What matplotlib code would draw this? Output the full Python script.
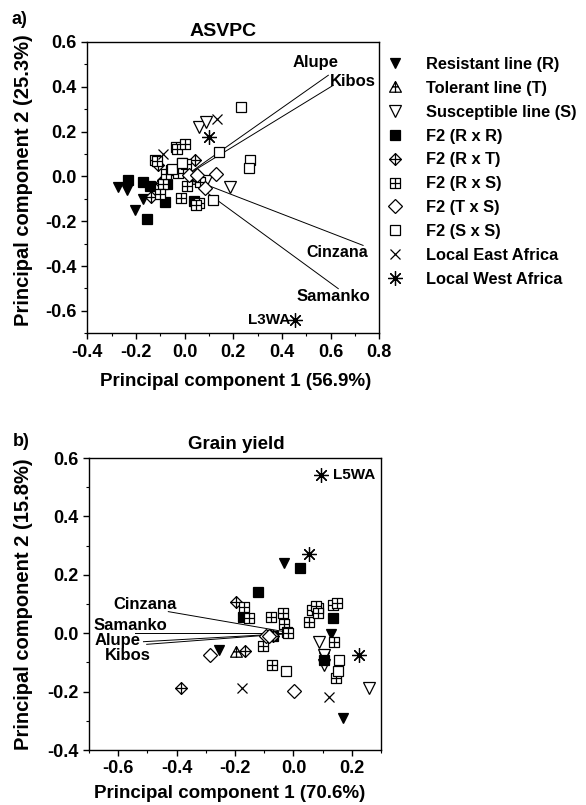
import matplotlib
matplotlib.use("Agg")
import matplotlib.pyplot as plt
from matplotlib.path import Path
from matplotlib.lines import Line2D
from matplotlib.ticker import MultipleLocator, FormatStrFormatter

plt.rcParams['font.family'] = ['Liberation Sans', 'DejaVu Sans']
plt.rcParams['font.weight'] = 'bold'
plt.rcParams['axes.unicode_minus'] = False

groups = ["Resistant line (R)", "Tolerant line (T)", "Susceptible line (S)",
          "F2 (R x R)", "F2 (R x T)", "F2 (R x S)", "F2 (T x S)", "F2 (S x S)",
          "Local East Africa", "Local West Africa"]

# ---- a) ASVPC scores
top_x = [
    [-0.272, -0.238, -0.170, -0.204, 0.03],
    [0.05],
    [0.060, 0.088, 0.186, 0.09],
    [-0.234, -0.172, -0.141, -0.156, -0.080, 0.038, -0.074],
    [-0.139, -0.108, -0.088, 0.043, 0.047, -0.095],
    [-0.035, -0.030, 0.002, -0.122, -0.056, -0.026, -0.012, 0.006, -0.088,
     -0.101, 0.009, -0.015, 0.060, 0.046, 0.063, -0.115, -0.075],
    [0.129, 0.084, 0.02, 0.05],
    [0.23, 0.141, 0.269, 0.266, 0.118, -0.053, -0.01],
    [0.132, -0.090],
    [0.101, 0.454],
]
top_y = [
    [-0.048, -0.063, -0.10, -0.150, -0.01],
    [-0.01],
    [0.22, 0.243, -0.047, -0.02],
    [-0.018, -0.027, -0.045, -0.189, -0.115, -0.108, -0.033],
    [-0.092, 0.049, -0.015, 0.075, -0.003, -0.03],
    [0.131, 0.12, 0.146, 0.075, 0.030, 0.017, 0.060, 0.055, -0.033,
     -0.080, -0.045, -0.097, -0.120, -0.130, -0.025, 0.07, 0.01],
    [0.012, -0.052, 0.005, 0.005],
    [0.31, 0.108, 0.071, 0.039, -0.104, 0.035, 0.06],
    [0.258, 0.098],
    [0.176, -0.643],
]

# ---- b) grain yield scores
bot_x = [
    [-0.031, -0.255, 0.127, 0.168, 0.104],
    [-0.197],
    [0.088, 0.104, 0.258, 0.105],
    [0.021, -0.12, -0.172, 0.135, 0.104, -0.07],
    [-0.383, -0.165, -0.197, -0.08, -0.07],
    [-0.168, -0.153, -0.076, -0.037, -0.031, -0.022, 0.053, 0.065, 0.085,
     0.136, 0.14, 0.146, -0.073, -0.104, 0.076, 0.149, 0.085, -0.02],
    [-0.287, 0.001, -0.095, -0.085],
    [-0.024, 0.155, 0.151],
    [-0.176, 0.121],
    [0.095, 0.053, 0.223],
]
bot_y = [
    [0.242, -0.056, -0.003, -0.29, -0.08],
    [-0.065],
    [-0.031, -0.11, -0.189, -0.075],
    [0.225, 0.142, 0.056, 0.053, -0.093, -0.01],
    [-0.189, -0.062, 0.107, -0.005, -0.01],
    [0.09, 0.051, 0.055, 0.07, 0.030, 0.004, 0.039, 0.081, 0.087,
     0.098, -0.031, -0.153, -0.11, -0.045, 0.094, 0.105, 0.07, 0.0],
    [-0.074, -0.198, -0.009, -0.01],
    [-0.13, -0.093, -0.13],
    [-0.189, -0.217],
    [0.543, 0.271, -0.074],
]

# environment vectors
sites = ["Alupe", "Kibos", "Cinzana", "Samanko"]
top_vec_x = [0.591, 0.611, 0.734, 0.632]
top_vec_y = [0.451, 0.406, -0.308, -0.501]
bot_vec_x = [-0.513, -0.502, -0.428, -0.542]
bot_vec_y = [-0.029, -0.038, 0.074, 0.0]

# marker shapes
M, L, C = Path.MOVETO, Path.LINETO, Path.CLOSEPOLY
tri_cross = Path([(-1, -0.8), (1, -0.8), (0, 1), (0, 0), (0, -0.8), (0, 1), (-0.5, 0.1), (0.5, 0.1)],
                 [M, L, L, C, M, L, M, L])
dia_cross = Path([(0, -1), (1, 0), (0, 1), (-1, 0), (0, 0), (0, -1), (0, 1), (-1, 0), (1, 0)],
                 [M, L, L, L, C, M, L, M, L])
sq_cross = Path([(-1, -1), (1, -1), (1, 1), (-1, 1), (0, 0), (0, -1), (0, 1), (-1, 0), (1, 0)],
                [M, L, L, L, C, M, L, M, L])

styles = [
    dict(marker='v', mfc='black', ms=7.5),
    dict(marker=tri_cross, mfc='white', ms=8.5),
    dict(marker='v', mfc='white', ms=8.5),
    dict(marker='s', mfc='black', ms=7),
    dict(marker=dia_cross, mfc='white', ms=8.5),
    dict(marker=sq_cross, mfc='white', ms=7.5),
    dict(marker='D', mfc='white', ms=7),
    dict(marker='s', mfc='white', ms=7.5),
    dict(marker='x', mfc='none', ms=7.5),
    dict(marker=(8, 2, 0), mfc='none', ms=10.5),
]

fig = plt.figure(figsize=(5.86, 8.05), dpi=100)
ax1 = fig.add_axes([0.149, 0.586, 0.498, 0.362])
ax2 = fig.add_axes([0.1515, 0.0683, 0.499, 0.3627])


def draw(ax, xs, ys, vx, vy):
    for i in range(len(vx)):
        ax.plot([0, vx[i]], [0, vy[i]], color='black', lw=0.7, zorder=1)
    for i, st in enumerate(styles):
        ax.plot(xs[i], ys[i], ls='none', mec='black', mew=0.9, color='black', zorder=2, **st)
    ax.xaxis.set_minor_locator(MultipleLocator(0.1))
    ax.yaxis.set_minor_locator(MultipleLocator(0.1))
    ax.xaxis.set_major_locator(MultipleLocator(0.2))
    ax.yaxis.set_major_locator(MultipleLocator(0.2))
    ax.xaxis.set_major_formatter(FormatStrFormatter('%.1f'))
    ax.yaxis.set_major_formatter(FormatStrFormatter('%.1f'))
    ax.tick_params(which='major', length=4, width=1, labelsize=13)
    ax.tick_params(which='minor', length=2.5, width=0.8)
    for s in ax.spines.values():
        s.set_linewidth(1)


draw(ax1, top_x, top_y, top_vec_x, top_vec_y)
ax1.set_xlim(-0.4, 0.8)
ax1.set_ylim(-0.7, 0.6)
ax1.set_xlabel("Principal component 1 (56.9%)", fontsize=13.5, fontweight='bold')
ax1.set_ylabel("Principal component 2 (25.3%)", fontsize=14.5, fontweight='bold')
ax1.xaxis.set_label_coords(0.509, -0.138)
ax1.yaxis.set_label_coords(-0.186, 0.526)
ax1.text(0.465, 1.035, "ASVPC", transform=ax1.transAxes, ha='center', va='center',
         fontsize=14, fontweight='bold')
ax1.text(0.632, 0.506, "Alupe", ha='right', va='center', fontsize=12, fontweight='bold')
ax1.text(0.598, 0.421, "Kibos", ha='left', va='center', fontsize=12, fontweight='bold')
ax1.text(0.754, -0.338, "Cinzana", ha='right', va='center', fontsize=11.5, fontweight='bold')
ax1.text(0.762, -0.535, "Samanko", ha='right', va='center', fontsize=12, fontweight='bold')
ax1.text(0.433, -0.643, "L3WA", ha='right', va='center', fontsize=11, fontweight='bold')

draw(ax2, bot_x, bot_y, bot_vec_x, bot_vec_y)
ax2.set_xlim(-0.7, 0.3)
ax2.set_ylim(-0.4, 0.6)
ax2.set_xlabel("Principal component 1 (70.6%)", fontsize=13.5, fontweight='bold')
ax2.set_ylabel("Principal component 2 (15.8%)", fontsize=14.5, fontweight='bold')
ax2.xaxis.set_label_coords(0.483, -0.12)
ax2.yaxis.set_label_coords(-0.191, 0.5)
ax2.text(0.503, 1.045, "Grain yield", transform=ax2.transAxes, ha='center', va='center',
         fontsize=13.5, fontweight='bold')
ax2.text(-0.615, 0.1, "Cinzana", ha='left', va='center', fontsize=12, fontweight='bold')
ax2.text(-0.685, 0.028, "Samanko", ha='left', va='center', fontsize=12, fontweight='bold')
ax2.text(-0.679, -0.026, "Alupe", ha='left', va='center', fontsize=12, fontweight='bold')
ax2.text(-0.645, -0.075, "Kibos", ha='left', va='center', fontsize=12, fontweight='bold')
ax2.text(0.135, 0.543, "L5WA", ha='left', va='center', fontsize=11, fontweight='bold')

fig.text(12 / 586, 1 - 19 / 805, "a)", ha='left', va='center', fontsize=13, fontweight='bold')
fig.text(13 / 586, 1 - 441 / 805, "b)", ha='left', va='center', fontsize=13, fontweight='bold')

handles = [Line2D([], [], ls='none', mec='black', mew=0.9, color='black', **st) for st in styles]
fig.legend(handles, groups, loc='upper left', bbox_to_anchor=(387 / 586, 1 - 57 / 805),
           frameon=False, handlelength=1.0, handletextpad=1.4, labelspacing=0.54,
           borderpad=0, borderaxespad=0, prop=dict(size=11.8, weight='bold'))

fig.savefig("out.png", dpi=100)
